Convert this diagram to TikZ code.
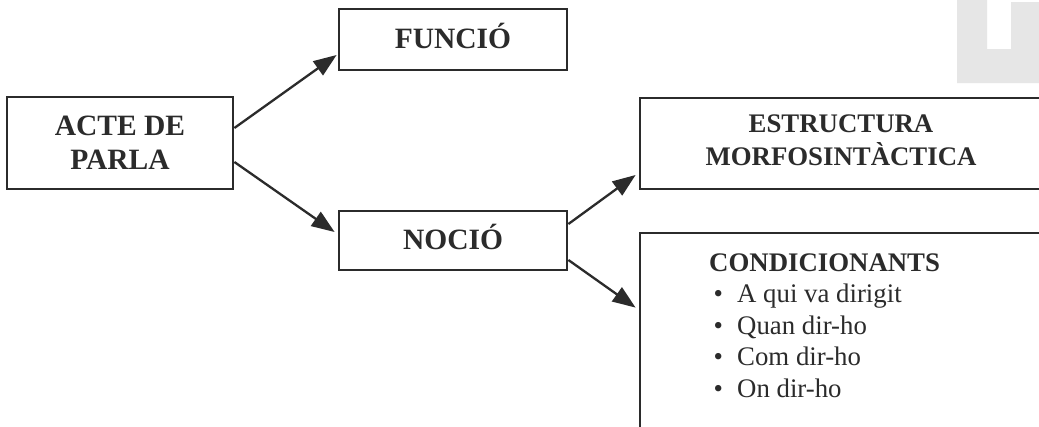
\documentclass[tikz,border=0pt]{standalone}
\usepackage{fontspec}
\setmainfont{Liberation Serif}
\usetikzlibrary{arrows.meta}
\definecolor{ink}{HTML}{2B2B2B}
\definecolor{greyblock}{HTML}{E6E6E6}
\newcommand{\itembul}{\hspace*{4.5pt}\makebox[23.5pt][l]{•}}
\begin{document}
\begin{tikzpicture}[x=1pt,y=-1pt,
  box/.style={draw=ink, line width=2.8pt, rectangle, inner sep=0pt, text=ink},
  big/.style={font=\fontsize{29.5}{34}\selectfont\bfseries},
  mid/.style={font=\fontsize{26.8}{32}\selectfont\bfseries},
  arr/.style={draw=ink, line width=2.3pt, -{Triangle[length=23pt,width=17pt]}},
]
\clip (0,0) rectangle (1039,426);
\fill[white] (0,0) rectangle (1039,426);
\fill[greyblock] (957,0) -- (957,83) -- (1039,83) -- (1039,2) -- (1011,2) -- (1011,49) -- (987,49) -- (987,0) -- cycle;

\node[box, big, minimum width=226pt, minimum height=92pt, text height=53.5pt, text depth=0pt] (acte) at (120,143)
  {\begin{tabular}[b]{@{}c@{}}ACTE DE\\PARLA\end{tabular}};
\node[box, big, minimum width=228pt, minimum height=61pt, text height=19.5pt, text depth=2pt] (funcio) at (453,39.5) {FUNCIÓ};
\node[box, big, minimum width=228pt, minimum height=59pt, text height=19.5pt, text depth=1pt] (nocio) at (453,240.5) {NOCIÓ};
\node[box, mid, minimum width=402pt, minimum height=91pt, text height=50pt, text depth=7pt] (estr) at (841,143.5)
  {\begin{tabular}[b]{@{}c@{}}ESTRUCTURA\\MORFOSINTÀCTICA\end{tabular}};
\node[box, minimum width=402pt, minimum height=237pt] (cond) at (841,351.5) {};
\node[anchor=base west, inner sep=0pt, text=ink, font=\fontsize{26.8}{31.5}\selectfont] (condtext) at (709,271)
  {\begin{tabular}[t]{@{}l@{}}\textbf{CONDICIONANTS}\\
   \itembul A qui va dirigit\\
   \itembul Quan dir-ho\\
   \itembul Com dir-ho\\
   \itembul On dir-ho\end{tabular}};

\draw[arr] ([yshift=15pt]acte.east) -- ([xshift=-1pt,yshift=-15.5pt]funcio.west);
\draw[arr] ([yshift=-19pt]acte.east) -- ([xshift=-3pt,yshift=8.5pt]nocio.west);
\draw[arr] ([yshift=16.5pt]nocio.east) -- ([xshift=-3pt,yshift=-31.5pt]estr.west);
\draw[arr] ([yshift=-19.5pt]nocio.east) -- ([xshift=-3pt,yshift=-76pt]cond.north west);
\end{tikzpicture}
\end{document}
